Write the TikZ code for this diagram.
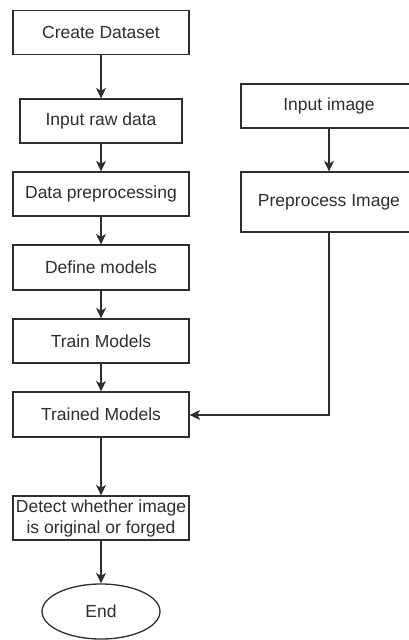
\documentclass[tikz,border=0pt]{standalone}
\usepackage{fontspec}
\setmainfont{Liberation Sans}
\usetikzlibrary{arrows.meta,shapes.geometric}
\definecolor{ink}{HTML}{2E2E2E}
\tikzset{
  stepbox/.style={draw=ink, line width=1.3pt, rectangle, inner sep=0pt,
    minimum width=176pt, minimum height=44pt, text=ink,
    font=\fontsize{17.5}{21}\selectfont, align=center},
  endnode/.style={draw=ink, line width=1.3pt, ellipse, inner sep=0pt,
    minimum width=118pt, minimum height=55pt, text=ink,
    font=\fontsize{17.5}{21}\selectfont},
  flow/.style={draw=ink, line width=1.3pt, -{Stealth[length=10.5pt,width=10pt,inset=3pt]}}
}
\begin{document}
\begin{tikzpicture}[x=1pt,y=-1pt]
  \useasboundingbox (0,0) rectangle (409,640);
  \clip (0,0) rectangle (409,640);
  % left column: training pipeline
  \node[stepbox] (create) at (101,32.5) {Create Dataset};
  \node[stepbox, minimum width=162pt] (raw) at (101,121) {Input raw data};
  \node[stepbox] (prep) at (101,194) {Data preprocessing};
  \node[stepbox, minimum height=45pt] (define) at (101,267.5) {Define models};
  \node[stepbox] (train) at (101,341) {Train Models};
  \node[stepbox, minimum height=45pt] (trained) at (101,414.5) {Trained Models};
  \node[stepbox] (detect) at (101,518) {Detect whether image\\is original or forged};
  \node[endnode] (end) at (101,611.5) {End};
  % right column: image to test
  \node[stepbox] (inimg) at (329,106) {Input image};
  \node[stepbox, minimum height=60pt] (preimg) at (329,202) {Preprocess Image};
  \coordinate (bend) at (329,415);
  % connectors
  \draw[flow] (create) -- (raw);
  \draw[flow] (raw) -- (prep);
  \draw[flow] (prep) -- (define);
  \draw[flow] (define) -- (train);
  \draw[flow] (train) -- (trained);
  \draw[flow] (trained) -- (detect);
  \draw[flow] (detect) -- (end);
  \draw[flow] (inimg) -- (preimg);
  \draw[flow] (preimg.south) -- (bend) -- (trained.east |- bend);
\end{tikzpicture}
\end{document}
